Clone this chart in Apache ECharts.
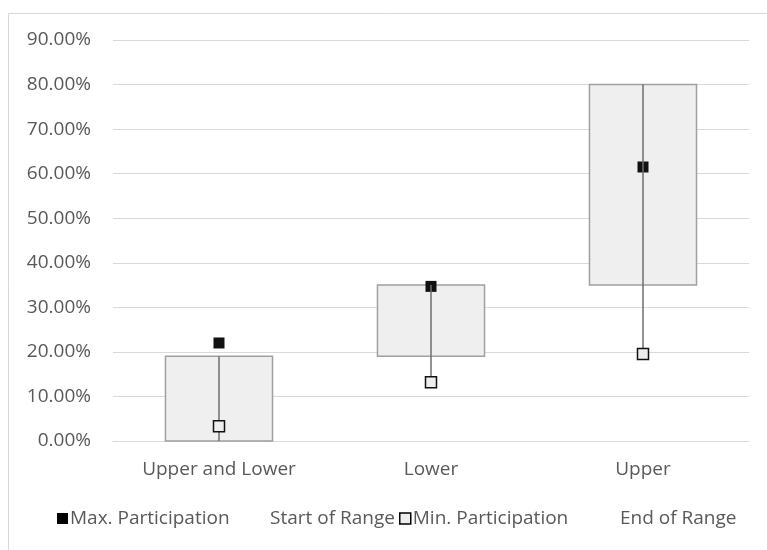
<!DOCTYPE html>
<html>
<head>
<meta charset="utf-8">
<script src="https://cdn.jsdelivr.net/npm/echarts@6/dist/echarts.min.js"></script>
<style>
html,body{margin:0;padding:0;background:#fff;}
#chart{width:767px;height:550px;}
</style>
</head>
<body>
<div id="chart"></div>
<script>
var categories = ['Upper and Lower', 'Lower', 'Upper'];
var maxParticipation = [0.22, 0.347, 0.615];
var minParticipation = [0.033, 0.132, 0.195];
var startOfRange = [0.0, 0.19, 0.35];
var endOfRange = [0.19, 0.35, 0.80];

var font = '"Open Sans", "Noto Sans", sans-serif';
var txt = '#595959';

var chart = echarts.init(document.getElementById('chart'));

var boxData = categories.map(function (c, i) { return [i, startOfRange[i], endOfRange[i]]; });
var whiskData = categories.map(function (c, i) {
  return [i, Math.min(startOfRange[i], minParticipation[i]), Math.max(endOfRange[i], minParticipation[i])];
});

function legendItem(name, left, icon, style) {
  var d = { name: name, icon: icon };
  if (style) d.itemStyle = style;
  return {
    top: 509, left: left, padding: 0,
    itemWidth: 11, itemHeight: 11, itemGap: 0,
    textStyle: { fontFamily: font, fontSize: 19, color: txt, padding: [0, 0, 0, -3] },
    data: [d]
  };
}

chart.setOption({
  animation: false,
  backgroundColor: '#fff',
  textStyle: { fontFamily: font },
  graphic: [{
    type: 'rect', shape: { x: 8.5, y: 13.5, width: 800, height: 600 },
    style: { fill: 'none', stroke: '#d9d9d9', lineWidth: 1 }, silent: true, z: -10
  }],
  grid: { left: 113, right: 18, top: 40, bottom: 109 },
  legend: [
    legendItem('Max. Participation', 57, 'rect', { color: '#000', borderColor: '#000' }),
    legendItem('Start of Range', 257, 'none'),
    legendItem('Min. Participation', 399, 'rect', { color: '#eeeeee', borderColor: '#000', borderWidth: 1.5 }),
    legendItem('End of Range', 607, 'none')
  ],
  xAxis: {
    type: 'category', data: categories,
    axisLine: { show: true, lineStyle: { color: '#d9d9d9', width: 1 } },
    axisTick: { show: false },
    axisLabel: { fontFamily: font, fontSize: 19, color: txt, margin: 19 }
  },
  yAxis: {
    type: 'value', min: 0, max: 0.9, interval: 0.1,
    axisLine: { show: false }, axisTick: { show: false },
    splitLine: { lineStyle: { color: '#d9d9d9', width: 1 } },
    axisLabel: {
      fontFamily: font, fontSize: 19, color: txt, margin: 22,
      formatter: function (v) { return (v * 100).toFixed(2) + '%'; }
    }
  },
  series: [
    {
      type: 'custom', name: 'box', z: 2,
      data: boxData,
      encode: { x: 0, y: [1, 2] },
      renderItem: function (params, api) {
        var x = api.value(0);
        var p1 = api.coord([x, api.value(1)]);
        var p2 = api.coord([x, api.value(2)]);
        var w = api.size([1, 0])[0] * 0.505;
        return {
          type: 'rect',
          shape: { x: p1[0] - w / 2, y: p2[1], width: w, height: p1[1] - p2[1] },
          style: { fill: '#efefef', stroke: '#a0a0a0', lineWidth: 1.5 }
        };
      }
    },
    {
      type: 'scatter', name: 'Max. Participation', z: 3,
      data: maxParticipation, symbol: 'rect', symbolSize: 11,
      itemStyle: { color: '#111', opacity: 1 }
    },
    {
      type: 'custom', name: 'whisker', z: 4,
      data: whiskData,
      encode: { x: 0, y: [1, 2] },
      renderItem: function (params, api) {
        var x = api.value(0);
        var p1 = api.coord([x, api.value(1)]);
        var p2 = api.coord([x, api.value(2)]);
        return {
          type: 'line',
          shape: { x1: p1[0], y1: p1[1], x2: p2[0], y2: p2[1] },
          style: { stroke: '#6e6e6e', lineWidth: 1.5 }
        };
      }
    },
    {
      type: 'scatter', name: 'Min. Participation', z: 5,
      data: minParticipation, symbol: 'rect', symbolSize: 11,
      itemStyle: { color: '#eeeeee', borderColor: '#111', borderWidth: 1.5, opacity: 1 }
    },
    {
      type: 'line', name: 'Start of Range', data: startOfRange,
      symbol: 'none', lineStyle: { opacity: 0 }, silent: true
    },
    {
      type: 'line', name: 'End of Range', data: endOfRange,
      symbol: 'none', lineStyle: { opacity: 0 }, silent: true
    }
  ]
});
</script>
</body>
</html>
